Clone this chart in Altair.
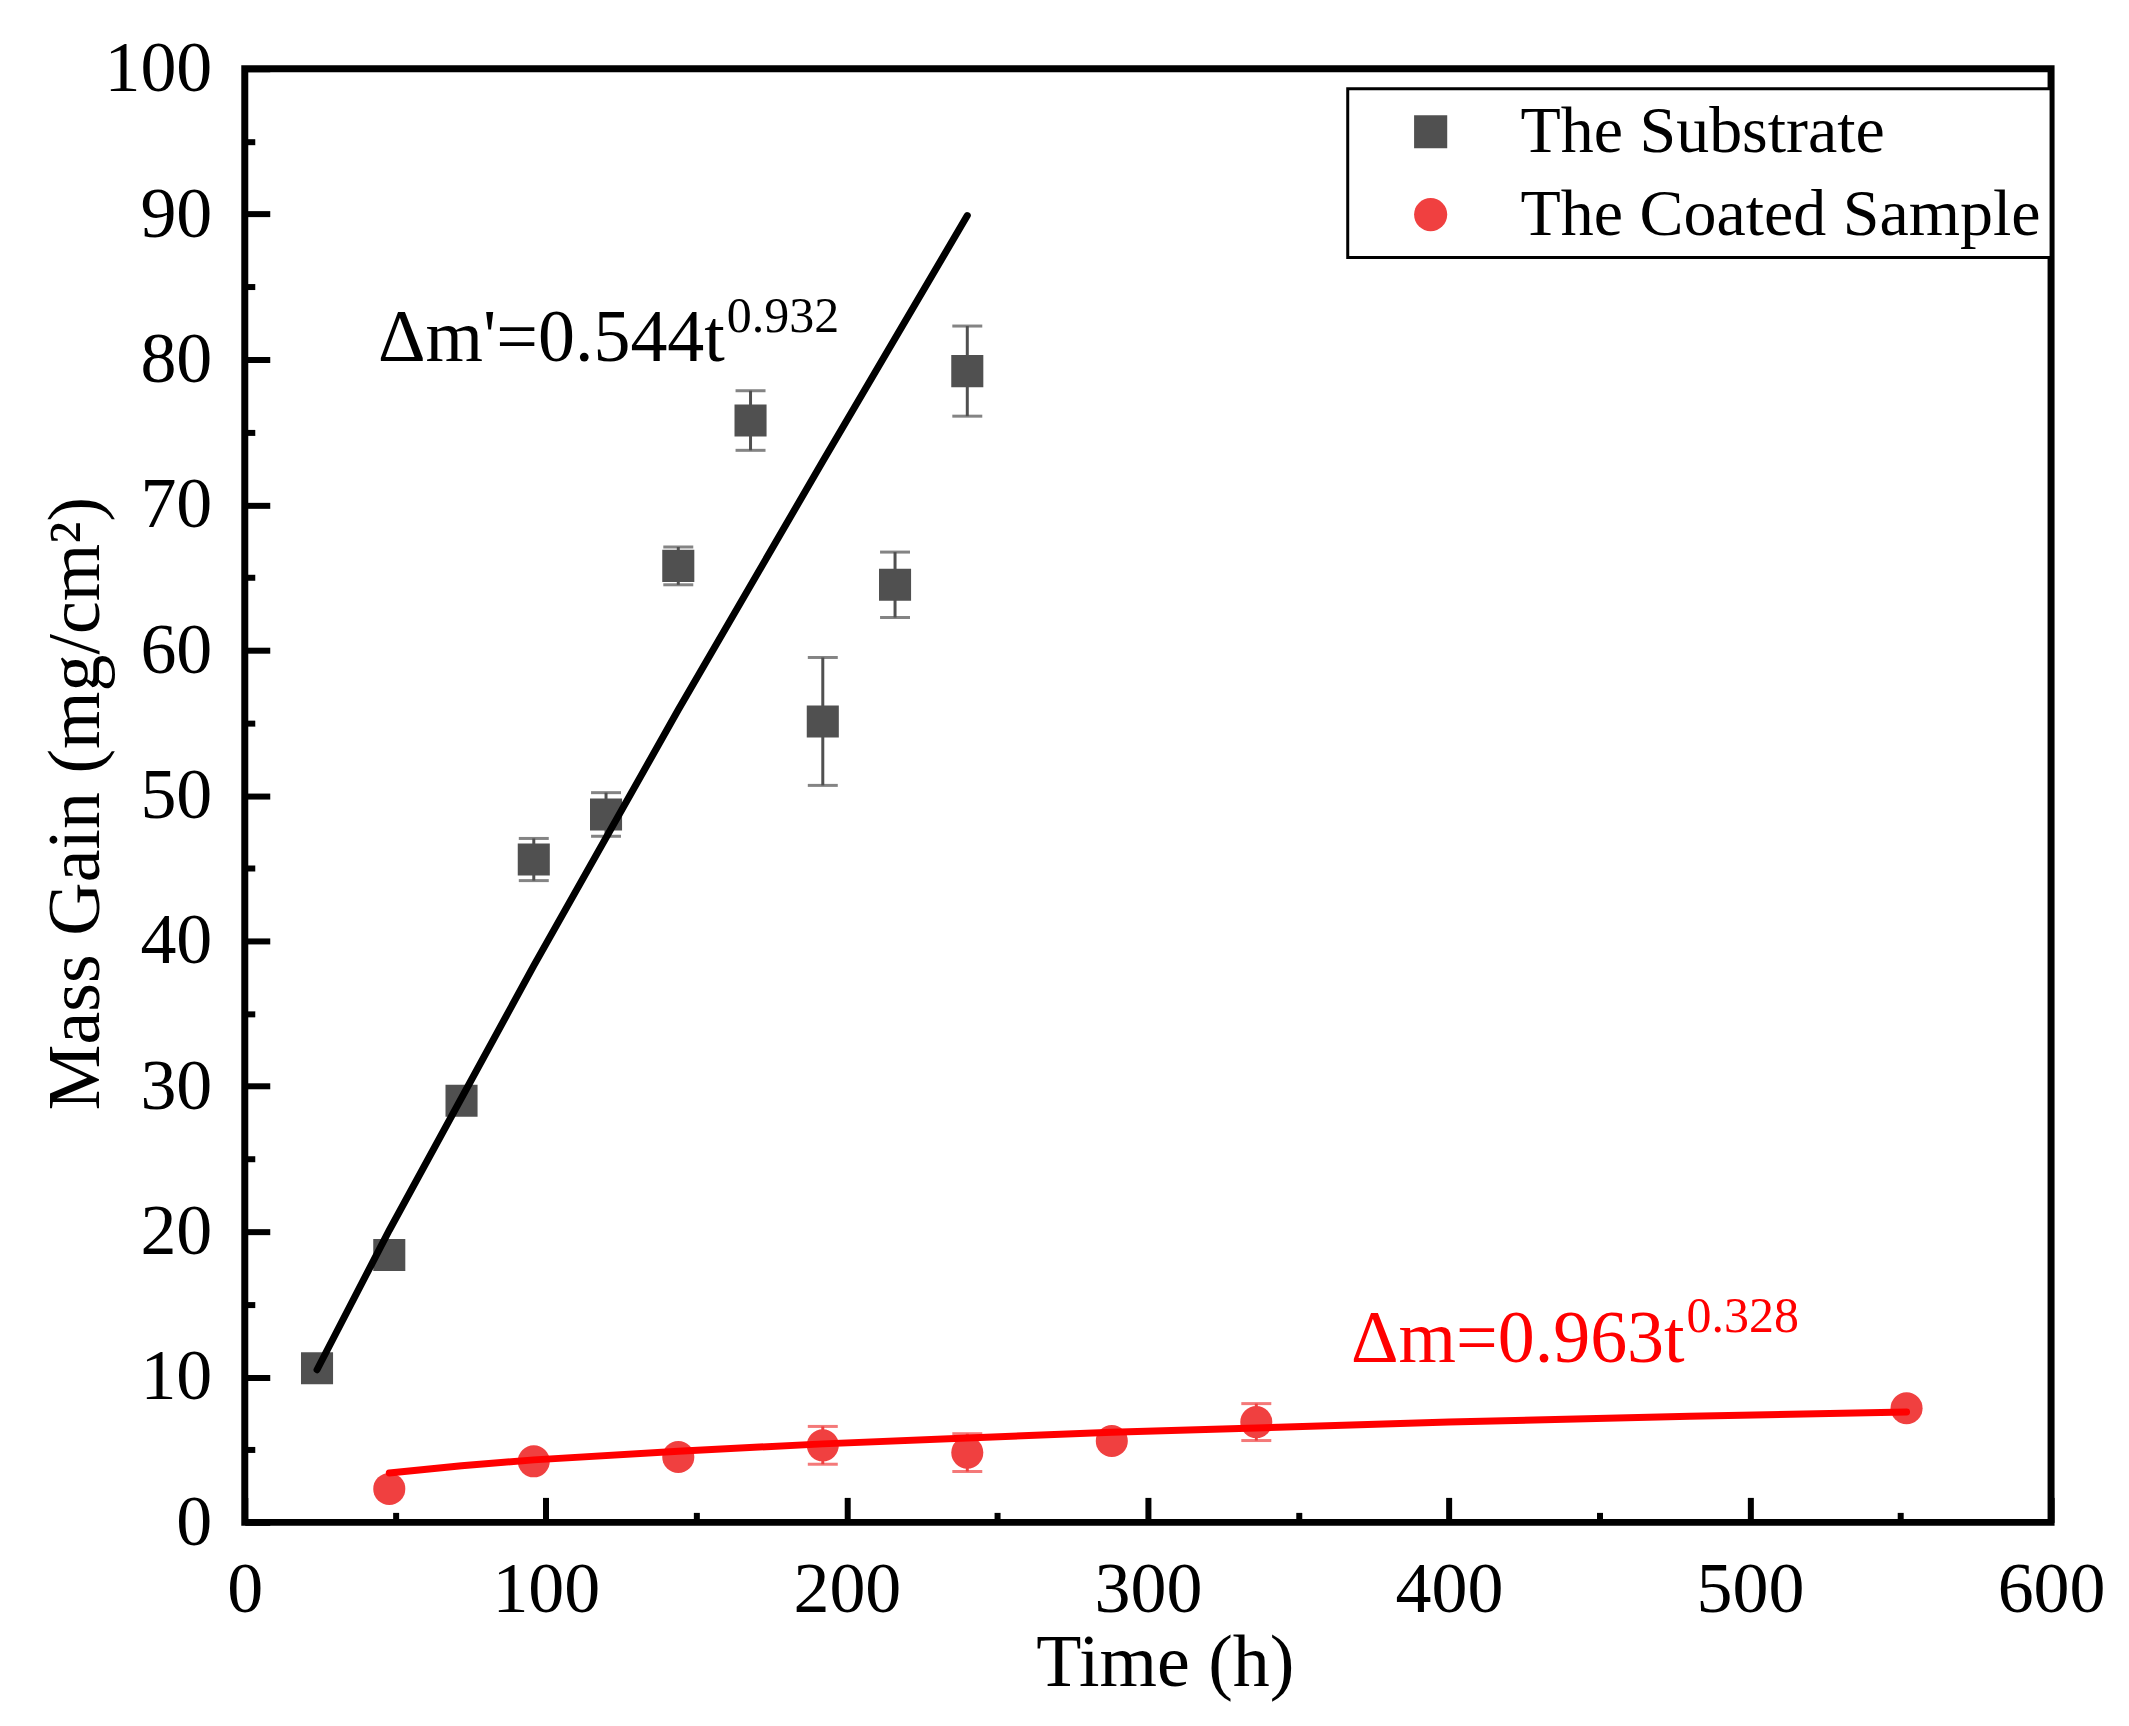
import altair as alt
import pandas as pd

FONT = "Liberation Serif"

# The Substrate (squares), mean mass gain and error
sub_t = [24, 48, 72, 96, 120, 144, 168, 192, 216, 240]
sub_m = [10.6, 18.4, 29.0, 45.6, 48.7, 65.8, 75.8, 55.1, 64.5, 79.2]
sub_err = [0.3, 0.3, 0.3, 1.45, 1.5, 1.3, 2.05, 4.4, 2.25, 3.1]

# The Coated Sample (circles)
coat_t = [48, 96, 144, 192, 240, 288, 336, 552]
coat_m = [2.3, 4.2, 4.5, 5.3, 4.8, 5.6, 6.9, 7.85]
coat_err = [0.3, 0.3, 0.3, 1.3, 1.3, 0.3, 1.27, 0.3]

# fitted curves
fit_sub_t = [24, 48, 96, 144, 192, 240]
fit_sub_m = [10.5, 20.1, 38.3, 55.9, 73.0, 89.9]
fit_coat_t = [48, 72, 96, 144, 192, 240, 288, 336, 400, 480, 552]
fit_coat_m = [3.4, 3.9, 4.3, 4.9, 5.4, 5.8, 6.2, 6.5, 6.9, 7.3, 7.6]

# equation labels
eq_main = ["Δm'=0.544t", "Δm=0.963t"]
eq_sup = ["0.932", "0.328"]
eq_t = [159.8, 478.6]
eq_m = [79.9, 11.0]
eq_sup_m = [81.9, 13.1]
eq_color = ["black", "#FF0000"]

series = ["The Substrate", "The Coated Sample"]
colors = ["#505050", "#F04040"]
shapes = ["square", "circle"]

pts = pd.concat([
    pd.DataFrame({"t": sub_t, "m": sub_m, "err": sub_err, "series": series[0]}),
    pd.DataFrame({"t": coat_t, "m": coat_m, "err": coat_err, "series": series[1]}),
])
pts["lo"] = pts["m"] - pts["err"]
pts["hi"] = pts["m"] + pts["err"]
pts["col"] = pts["series"].map(dict(zip(series, colors)))

fit_sub = pd.DataFrame({"t": fit_sub_t, "m": fit_sub_m})
fit_coat = pd.DataFrame({"t": fit_coat_t, "m": fit_coat_m})
eqs = pd.DataFrame({"t": eq_t, "m": eq_m, "ms": eq_sup_m,
                    "main": eq_main, "sup": eq_sup, "col": eq_color})

xs = alt.Scale(domain=[0, 600], nice=False)
ys = alt.Scale(domain=[0, 100], nice=False)

# major ticks point inwards: axis pushed into the plot, ticks drawn outwards
x_major = alt.Axis(orient="bottom", values=list(range(0, 601, 100)), offset=-25,
                   tickSize=25, tickWidth=6, tickColor="black", domain=False, grid=False,
                   labelFont=FONT, labelFontSize=72, labelColor="black", labelPadding=32,
                   labelFlush=False, labelOverlap=False,
                   title="Time (h)", titleFont=FONT, titleFontSize=74, titleFontWeight="normal",
                   titleColor="black", titleBaseline="alphabetic", titleX=921, titleY=188)
y_major = alt.Axis(orient="left", values=list(range(0, 101, 10)), offset=-25,
                   tickSize=25, tickWidth=6, tickColor="black", domain=False, grid=False,
                   labelFont=FONT, labelFontSize=72, labelColor="black", labelPadding=33,
                   labelFlush=False, labelOverlap=False,
                   title="Mass Gain (mg/cm²)", titleFont=FONT, titleFontSize=74,
                   titleFontWeight="normal", titleColor="black", titleBaseline="alphabetic",
                   titleAngle=270, titleX=-171, titleY=735)
x_minor = alt.Axis(orient="bottom", values=list(range(50, 600, 100)), offset=-10,
                   tickSize=10, tickWidth=6, tickColor="black", domain=False, grid=False,
                   labels=False, title="")
y_minor = alt.Axis(orient="left", values=list(range(5, 100, 10)), offset=-10,
                   tickSize=10, tickWidth=6, tickColor="black", domain=False, grid=False,
                   labels=False, title="")

base = alt.Chart(pts)

stems = base.mark_rule(strokeWidth=3).encode(
    x=alt.X("t:Q", scale=xs, axis=None),
    y=alt.Y("lo:Q", scale=ys, axis=None),
    y2="hi:Q",
    color=alt.Color("col:N", scale=None),
)
caps_lo = base.mark_tick(orient="horizontal", size=30, thickness=3).encode(
    x=alt.X("t:Q", scale=xs, axis=None),
    y=alt.Y("lo:Q", scale=ys, axis=None),
    color=alt.Color("col:N", scale=None),
)
caps_hi = base.mark_tick(orient="horizontal", size=30, thickness=3).encode(
    x=alt.X("t:Q", scale=xs, axis=None),
    y=alt.Y("hi:Q", scale=ys, axis=None),
    color=alt.Color("col:N", scale=None),
)

legend = alt.Legend(title=None, orient="none", legendX=1104, legendY=20)
points = base.mark_point(filled=True, opacity=1, size=1030).encode(
    x=alt.X("t:Q", scale=xs, axis=x_major),
    y=alt.Y("m:Q", scale=ys, axis=y_major),
    color=alt.Color("series:N", scale=alt.Scale(domain=series, range=colors), legend=legend),
    shape=alt.Shape("series:N", scale=alt.Scale(domain=series, range=shapes), legend=legend),
)

line_sub = alt.Chart(fit_sub).mark_line(color="black", strokeWidth=7, strokeCap="round").encode(
    x=alt.X("t:Q", scale=xs, axis=x_minor),
    y=alt.Y("m:Q", scale=ys, axis=y_minor),
)
line_coat = alt.Chart(fit_coat).mark_line(color="#FF0000", strokeWidth=7, strokeCap="round").encode(
    x=alt.X("t:Q", scale=xs, axis=None),
    y=alt.Y("m:Q", scale=ys, axis=None),
)

eq_text = alt.Chart(eqs).mark_text(align="right", baseline="alphabetic", font=FONT,
                                   fontSize=74, dx=-1).encode(
    x=alt.X("t:Q", scale=xs, axis=None),
    y=alt.Y("m:Q", scale=ys, axis=None),
    text="main:N",
    color=alt.Color("col:N", scale=None),
)
eq_sup_text = alt.Chart(eqs).mark_text(align="left", baseline="alphabetic", font=FONT,
                                       fontSize=50, dx=1).encode(
    x=alt.X("t:Q", scale=xs, axis=None),
    y=alt.Y("ms:Q", scale=ys, axis=None),
    text="sup:N",
    color=alt.Color("col:N", scale=None),
)

chart = alt.layer(
    stems, caps_lo, caps_hi, points, line_sub, line_coat, eq_text, eq_sup_text
).resolve_axis(
    x="independent", y="independent"
).properties(
    width=1808,
    height=1455,
    autosize=alt.AutoSizeParams(type="none"),
    padding={"left": 237, "top": 60, "right": 70, "bottom": 198},
).configure_view(
    stroke="black", strokeWidth=7
).configure_legend(
    strokeColor="black", strokeWidth=3, fillColor="white", padding=10,
    labelFont=FONT, labelFontSize=66, labelColor="black", labelLimit=1000,
    symbolSize=1100, symbolStrokeWidth=0, symbolOpacity=1, symbolOffset=40, labelOffset=57,
    rowPadding=17,
)

chart.save("out.html", embed_options={"renderer": "svg", "actions": False})
